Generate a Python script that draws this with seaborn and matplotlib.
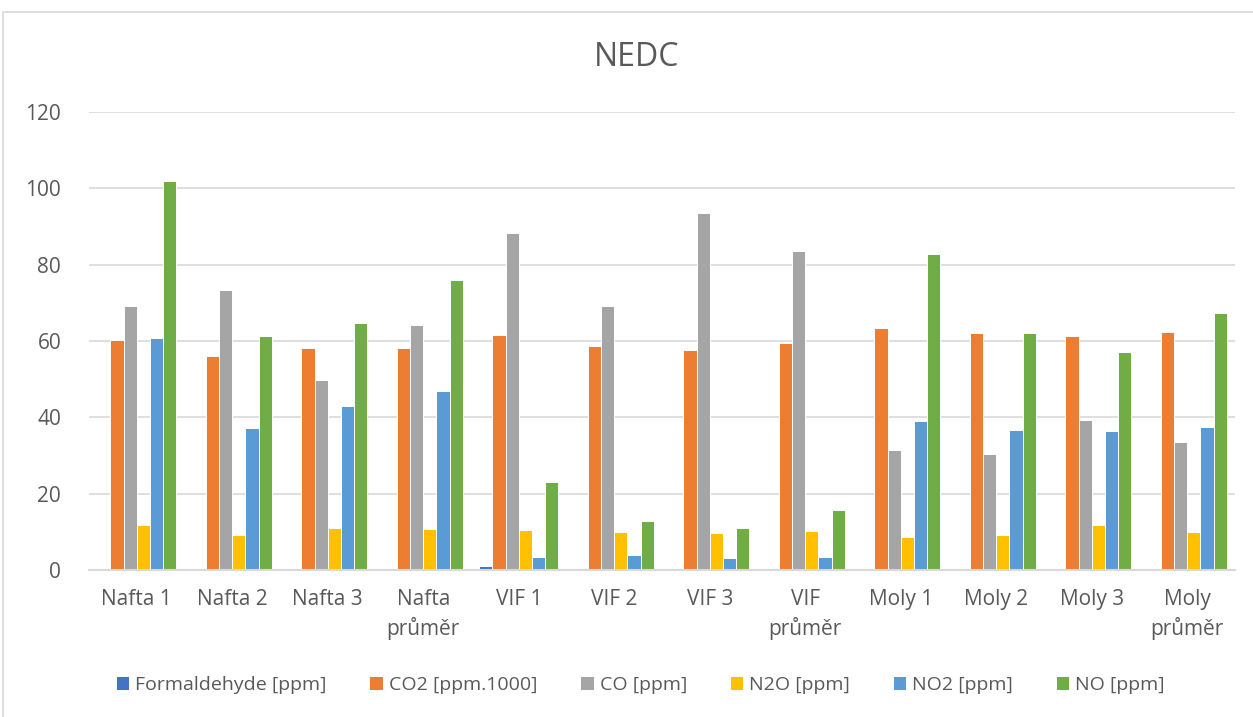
import matplotlib
matplotlib.use("Agg")
import matplotlib.pyplot as plt
from matplotlib.patches import Rectangle
import seaborn as sns
import pandas as pd

categories = ["Nafta 1", "Nafta 2", "Nafta 3", "Nafta\nprůměr",
              "VIF 1", "VIF 2", "VIF 3", "VIF\nprůměr",
              "Moly 1", "Moly 2", "Moly 3", "Moly\nprůměr"]

series = ["Formaldehyde [ppm]", "CO2 [ppm.1000]", "CO [ppm]",
          "N2O [ppm]", "NO2 [ppm]", "NO [ppm]"]

formaldehyde = [0.3, 0.3, 0.3, 0.3, 1.0, 0.4, 0.4, 0.6, 0.2, 0.2, 0.2, 0.2]
co2 = [60.2, 56.0, 58.2, 58.1, 61.7, 58.8, 57.7, 59.4, 63.5, 62.1, 61.3, 62.3]
co = [69.3, 73.4, 49.8, 64.2, 88.2, 69.1, 93.5, 83.6, 31.4, 30.3, 39.2, 33.6]
n2o = [11.8, 9.2, 10.9, 10.7, 10.6, 10.0, 9.8, 10.2, 8.7, 9.3, 11.9, 10.0]
no2 = [60.8, 37.1, 43.0, 47.0, 3.3, 3.8, 3.1, 3.4, 39.1, 36.8, 36.5, 37.4]
no = [101.9, 61.3, 64.6, 76.0, 23.0, 12.8, 11.0, 15.6, 82.7, 62.1, 57.2, 67.3]

colors = ["#4472C4", "#ED7D31", "#A5A5A5", "#FFC000", "#5B9BD5", "#70AD47"]

values = [formaldehyde, co2, co, n2o, no2, no]
rows = []
for name, vals in zip(series, values):
    for cat, v in zip(categories, vals):
        rows.append({"Vzorek": cat, "Látka": name, "Hodnota": v})
df = pd.DataFrame(rows)

sns.set_theme(style="white")
plt.rcParams["font.family"] = ["Open Sans", "DejaVu Sans"]

fig = plt.figure(figsize=(12.53, 7.17), dpi=100)
ax = fig.add_axes([89 / 1253, 1 - 570 / 717, 1146 / 1253, (570 - 112) / 717])

sns.barplot(data=df, x="Vzorek", y="Hodnota", hue="Látka",
            order=categories, hue_order=series, palette=colors,
            saturation=1, width=0.83, edgecolor="white", linewidth=0.7,
            ax=ax, legend=True)

ax.set_ylim(0, 120)
ax.set_yticks(range(0, 121, 20))
ax.set_xlim(-0.5, len(categories) - 0.5)
ax.yaxis.grid(True, color="#D9D9D9", linewidth=1.2)
ax.set_axisbelow(True)
for side in ["top", "right", "left"]:
    ax.spines[side].set_visible(False)
ax.spines["bottom"].set_color("#D9D9D9")
ax.spines["bottom"].set_linewidth(1.5)
ax.tick_params(axis="y", length=0, labelsize=15, colors="#595959", pad=20)
ax.tick_params(axis="x", length=0, labelsize=15, colors="#595959", pad=14)
for lbl in ax.get_xticklabels():
    lbl.set_linespacing(1.35)
ax.set_xlabel("")
ax.set_ylabel("")

fig.text(0.508, 1 - 57 / 717, "NEDC", ha="center", va="center",
         fontsize=23, color="#595959")

handles, labels = ax.get_legend_handles_labels()
ax.legend_.remove()
fig.legend(handles, labels, loc="center", bbox_to_anchor=(0.511, 1 - 685 / 717),
           ncol=6, frameon=False, fontsize=14, handlelength=0.7,
           handleheight=0.75, handletextpad=0.3, columnspacing=2.2,
           labelcolor="#595959")

# chart frame
fig.patches.append(Rectangle((3 / 1253, -0.1), 1.2, 0.1 + (717 - 12) / 717,
                             transform=fig.transFigure, fill=False,
                             edgecolor="#D9D9D9", linewidth=1.2))

fig.savefig("out.png", dpi=100)
